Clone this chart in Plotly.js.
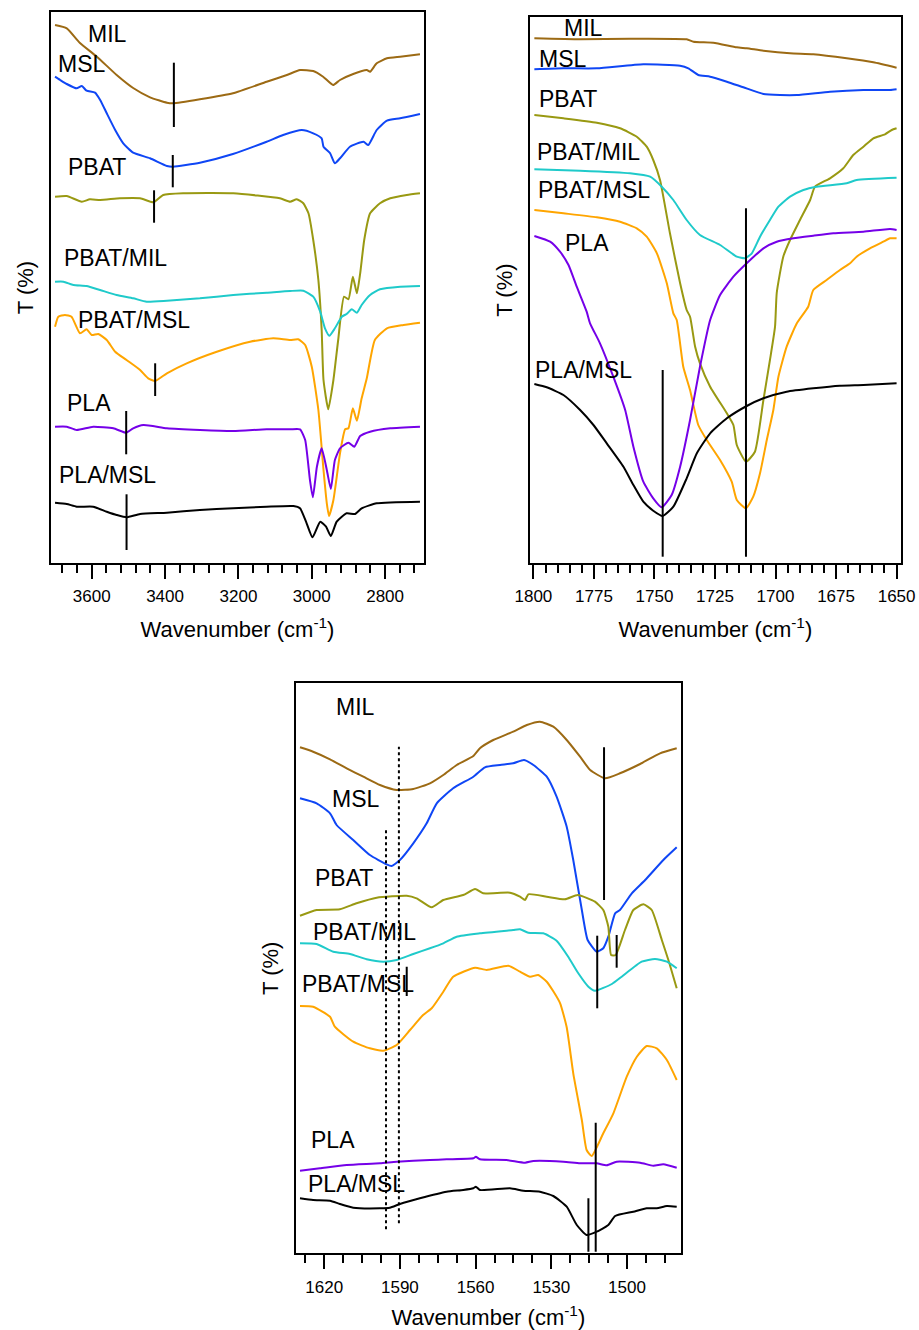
<!DOCTYPE html>
<html>
<head>
<meta charset="utf-8">
<script src="https://cdn.plot.ly/plotly-3.0.1.min.js"></script>
<style>html,body{margin:0;padding:0;background:#fff;}#chart{width:919px;height:1330px;}</style>
</head>
<body>
<div id="chart"></div>
<script>
// ===== Series names and colours =====
const seriesNames = ["MIL", "MSL", "PBAT", "PBAT/MIL", "PBAT/MSL", "PLA", "PLA/MSL"];
const seriesColors = ["#9C6A14", "#0F46F5", "#999912", "#1FCACA", "#FFA500", "#7500E8", "#000000"];

// ===== Panel 1: 3700–2700 cm-1 (wavenumber, offset transmittance in arbitrary units) =====
const p1_wn_MIL = [3700,3668,3632,3586,3532,3487,3441,3395,3378,3305,3215,3123,3068,3032,2996,2969,2942,2923,2887,2850,2841,2823,2795,2759,2705];
const p1_T_MIL  = [538,534.7,520,506.3,488,475,465.7,460.3,459.7,463.7,469.7,481.3,488,493,492,486.3,478,483,489,493,491.3,499.7,504.7,506.3,508.7];

const p1_wn_MSL = [3700,3686,3668,3641,3627,3614,3591,3577,3559,3536,3514,3487,3441,3395,3378,3305,3215,3123,3078,3027,2996,2973,2968,2950,2937,2923,2896,2859,2846,2823,2795,2759,2705];
const p1_T_MSL  = [486.3,483,479,474.7,477,472.3,470.3,463,449.7,433,419.7,410.3,404.7,397,396.3,400.3,409,421.3,428,433,429.7,424.7,416.3,409.7,399.7,404.7,416.3,421.3,418,433,442.3,444.7,449];

const p1_wn_PBAT = [3700,3668,3627,3605,3577,3523,3468,3432,3405,3350,3214,3087,3059,3041,3023,3009,2996,2982,2973,2968,2955,2941,2928,2912,2900,2888,2877,2868,2857,2841,2814,2786,2741,2705];
const p1_T_PBAT  = [366.3,367,361.3,363.7,363,364.7,364.7,360.7,368,369.7,369.7,364.7,361.3,363.7,359.7,349.7,323,283,233,183,153.7,183,223,266.3,263.7,286.3,269.7,289.7,323,349.7,359.7,364.7,368,369.7];

const p1_wn_PBATMIL = [3700,3677,3650,3614,3577,3532,3487,3450,3395,3305,3214,3123,3059,3023,2996,2977,2964,2952,2937,2918,2905,2891,2877,2864,2841,2814,2759,2705];
const p1_T_PBATMIL  = [281.3,281.3,278,277,273,268,264.7,261.3,262.3,264.7,268,270.3,272,272.3,266.3,251.3,234.7,227.3,234.7,246.3,249,253.7,250.3,258,268,273.7,276.3,277];

const p1_wn_PBATMSL = [3700,3691,3673,3655,3632,3614,3600,3582,3559,3536,3505,3468,3446,3427,3395,3341,3259,3168,3105,3059,3037,3018,3000,2982,2968,2959,2953,2941,2923,2909,2900,2888,2877,2864,2850,2828,2795,2750,2705];
const p1_T_PBATMSL  = [236.3,246.3,248,246.3,229.7,233.7,228,229,223,211.3,203,193,184.7,182,189.7,199.7,211.3,221.3,224.7,223,223.7,218,196.3,153,93,59.7,47,63,109.7,133.7,134.7,154.7,142.3,164.7,184.7,223,234.7,238,240.3];

const p1_wn_PLA = [3700,3668,3641,3596,3541,3506,3487,3459,3395,3305,3214,3123,3059,3032,3018,3005,2997,2986,2973,2959,2948,2937,2923,2900,2884,2868,2841,2786,2705];
const p1_T_PLA  = [136.3,136.3,133,136.3,134.7,130.3,134.7,138,134.7,133,132,133.7,133.7,133.7,123,83,65.7,96.3,114.7,93,74,103,114.7,120.3,116.3,127,131.3,134.7,136.3];

const p1_wn_PLAMSL = [3700,3668,3641,3596,3559,3532,3505,3468,3395,3305,3214,3123,3050,3032,3014,2998,2977,2961,2948,2932,2905,2882,2864,2823,2705];
const p1_T_PLAMSL  = [60.3,59,56.3,56.3,51.3,48,45.7,49,50.3,53,54.7,56.3,57,54.7,39.7,25.7,41.3,36.3,27,41.3,49.7,49,54.7,59.7,61.3];

// ===== Panel 2: 1800–1650 cm-1 =====
const p2_wn_MIL = [1799.6,1780.7,1760.1,1736.7,1733.9,1725.7,1716.0,1711.9,1705.0,1694.0,1684.4,1670.6,1659.6,1650.0];
const p2_T_MIL  = [524.7,523.7,524.3,523.7,521.3,520.3,515.7,514.7,512.3,509.7,508.7,504.7,500.7,495.3];

const p2_wn_MSL = [1799.6,1787.6,1773.8,1754.6,1739.4,1736.0,1731.9,1727.0,1720.1,1713.3,1705.0,1698.1,1691.2,1677.5,1663.7,1652.7,1650.0];
const p2_T_MSL  = [493.7,494.7,494.7,498.7,497.3,494.7,488,486.3,481.3,475.7,469,468,468,471.3,473,473,473.7];

const p2_wn_PBAT = [1799.6,1787.6,1773.8,1764.2,1757.3,1753.2,1750.5,1747.7,1743.6,1739.4,1736.7,1735.3,1733.2,1731.2,1727.0,1720.1,1717.4,1716.0,1712.2,1708.5,1705.0,1702.3,1700.2,1699.5,1696.8,1694.0,1689.9,1685.7,1683.7,1677.5,1672.0,1667.9,1663.7,1659.6,1654.8,1652.0,1650.0];
const p2_T_PBAT  = [448,444.7,440.3,434.7,426.3,416.3,403,383,329.7,279.7,253,246.3,216.3,199.7,176.3,149.7,138,118,101.3,111.3,163,203,236.3,270,306.3,323,343,363,376.3,384.7,394.7,408,416.3,424.7,428.7,433,434.7];

const p2_wn_PBATMIL = [1799.6,1780.7,1760.1,1751.8,1747.0,1742.2,1736.7,1731.2,1722.9,1716.0,1712.6,1709.8,1706.4,1702.3,1698.8,1694.0,1688.5,1683.0,1670.6,1666.5,1650.0];
const p2_T_PBATMIL  = [393.7,392.3,389.7,386.3,376.3,363,343,328,318,306.3,304.7,309.7,326.3,343,356.3,366.3,373,376.3,379.7,383,385.3];

const p2_wn_PBATMSL = [1799.6,1787.6,1773.8,1764.2,1757.3,1753.2,1749.0,1744.9,1742.2,1740.8,1738.1,1735.3,1731.9,1728.4,1722.9,1718.1,1716.0,1712.2,1709.2,1706.4,1703.6,1700.9,1698.8,1695.4,1691.2,1686.5,1684.4,1678.9,1673.4,1669.2,1666.5,1661.0,1655.5,1652.7,1650.0];
const p2_T_PBATMSL  = [353,349.7,345.7,341.3,334.7,326.3,309.7,279.7,249.7,243,196.3,173,138,123,103,81.3,63,54.7,66.3,89.7,123,153,186.3,216.3,239.7,256.3,273,283,293,299.7,306.3,314.7,321.3,324.7,324.7];

const p2_wn_PLA = [1799.6,1793.1,1789.0,1785.5,1782.1,1778.0,1776.6,1772.5,1767.0,1762.1,1758.7,1754.6,1750.5,1747.0,1742.9,1739.4,1735.3,1731.2,1727.0,1722.9,1717.4,1711.9,1705.0,1699.5,1692.6,1684.4,1676.1,1663.7,1652.7,1650.0];
const p2_T_PLA  = [327,321.3,311.3,298,276.3,251.3,239.7,219.7,186.3,153,116.3,81.3,64.7,55.7,68,96.3,143,196.3,243,268,286.3,299.7,314.7,321.3,324.7,327.3,329.7,331.3,334,333];

const p2_wn_PLAMSL = [1799.6,1794.5,1787.6,1780.7,1775.2,1769.7,1762.8,1758.7,1754.6,1750.5,1746.6,1742.2,1736.7,1732.5,1727.0,1720.1,1711.9,1705.0,1695.4,1684.4,1673.4,1663.7,1650.0];
const p2_T_PLAMSL  = [179,175.7,168,153,138,119.7,96.3,78,61.3,52.3,47,56.3,84.7,109.7,129.7,144.7,157,164.7,171.3,174.7,177.3,178,179.7];

// ===== Panel 3: 1630–1480 cm-1 =====
const p3_wn_MIL = [1629.6,1624.4,1617.7,1611.1,1604.5,1597.9,1591.3,1584.7,1578.1,1572.8,1567.5,1560.9,1558.3,1553.0,1545.1,1539.7,1534.5,1529.2,1523.9,1518.6,1514.6,1508.7,1502.8,1494.8,1486.9,1480.3];
const p3_T_MIL  = [506,501.6,494,485,476.6,468.3,463.3,464.3,470,478.3,488.3,497.3,505,513.3,521.6,528.3,531.6,526.6,513.3,496.6,483.3,475,480,489.3,500,505];

const p3_wn_MSL = [1629.6,1623.0,1617.7,1615.1,1608.5,1601.9,1595.3,1593.3,1590.0,1584.7,1579.4,1575.4,1568.9,1560.9,1556.3,1550.3,1545.1,1540.8,1537.1,1531.8,1527.9,1523.9,1521.3,1517.9,1515.6,1512.0,1509.4,1507.4,1504.7,1502.8,1498.1,1492.8,1485.6,1480.3];
const p3_T_MSL  = [455,450,440,428.3,413.3,398.3,389,387.3,393.3,410,430,450,465,476.6,486,488.3,490,493.3,488.3,476.6,456.6,426.6,393.3,343.3,313.3,301.6,305,316.6,340,343.3,360,373.3,393.3,406];

const p3_wn_PBAT = [1629.6,1623.0,1613.8,1607.2,1599.2,1587.3,1583.4,1577.4,1572.8,1564.9,1560.2,1557.0,1546.4,1542.4,1540.4,1539.1,1531.8,1524.6,1519.5,1512.7,1509.4,1507.4,1506.3,1504.5,1500.8,1497.5,1493.5,1490.2,1486.2,1483.6,1480.3];
const p3_T_PBAT  = [337.6,343.3,344,350,355.6,357.6,355,346,353.3,358.3,364.3,360,360.6,356.6,353.3,359,356.6,354,358.3,351.6,343.3,326.6,298.3,298.3,323.3,343.3,349,343.3,313.3,293.3,265];

const p3_wn_PBATMIL = [1629.6,1623.0,1616.4,1609.8,1603.2,1596.6,1591.3,1584.7,1578.1,1572.8,1567.5,1558.3,1545.1,1542.4,1539.1,1533.2,1527.9,1523.3,1519.3,1515.3,1512.7,1506.0,1502.1,1494.2,1488.9,1484.2,1480.3];
const p3_T_PBATMIL  = [310,309.3,301.6,299.3,294,291.6,293.3,299.3,305,310,316.6,320,323.3,324,320.6,320,312.6,296.6,280,266.6,262.6,269.3,276.6,291.6,294.3,291.6,285];

const p3_wn_PBATMSL = [1629.6,1624.4,1617.7,1615.8,1608.5,1601.9,1596.6,1591.3,1586.0,1580.8,1577.4,1572.8,1568.9,1560.2,1555.6,1547.0,1542.4,1538.4,1535.2,1531.8,1529.2,1526.5,1523.9,1521.3,1517.9,1516.0,1514.0,1509.4,1505.4,1500.1,1496.1,1492.2,1488.2,1484.2,1480.3];
const p3_T_PBATMSL  = [247.3,246.6,236.6,226.6,211.6,205,202.6,208.3,223.3,238.3,245,261.6,276.6,285.6,283.3,287.6,281.6,276.6,278.3,271.6,262,250,226,180,133.3,103.3,97.3,120,140,176.6,196.6,207.3,205,193.3,173.3];

const p3_wn_PLA = [1629.6,1621.7,1611.1,1597.9,1591.3,1578.1,1571.5,1560.9,1559.9,1558.3,1547.7,1540.4,1537.1,1525.2,1518.6,1512.0,1508.0,1504.1,1494.8,1489.6,1485.6,1480.3];
const p3_T_PLA  = [82.6,85,88.3,90,91.6,93.3,94,95,96.6,94,93.3,90.6,92.3,91.6,90,90,88,91.6,90.6,87.6,89,85.6];

const p3_wn_PLAMSL = [1629.6,1624.4,1617.7,1613.8,1608.5,1597.9,1594.0,1590.0,1582.1,1571.5,1564.9,1560.9,1559.9,1558.3,1546.4,1541.1,1534.5,1529.2,1523.9,1519.9,1516.0,1512.0,1507.4,1504.7,1497.5,1492.2,1488.2,1484.2,1480.3];
const p3_T_PLAMSL  = [55,53.3,52.6,49.3,45.6,45,45.6,49.3,55,61.6,63.3,65,66.6,63.3,65,62.6,61.6,57.3,46.6,28.3,18.3,21.6,28.3,37.3,41.6,45,45,47.3,46.6];

// ===== Band markers (wavenumber of each marked band) =====
const p1_markWn = [3376, 3379, 3430, 3427, 3506, 3505];
const p2_markWn = [1746.6, 1712.2];
const p3_markWn = [1509.1, 1511.8, 1504.1, 1587.3, 1512.4, 1515.3];
const p3_dotWn  = [1595.5, 1590.4];

// ===== Axis titles =====
const axisTitleX = "Wavenumber (cm<sup>-1</sup>)";
const axisTitleY = "T (%)";

// ---------- build ----------
const panels = [
  {xa:"x",  ya:"y",  data:[[p1_wn_MIL,p1_T_MIL],[p1_wn_MSL,p1_T_MSL],[p1_wn_PBAT,p1_T_PBAT],[p1_wn_PBATMIL,p1_T_PBATMIL],[p1_wn_PBATMSL,p1_T_PBATMSL],[p1_wn_PLA,p1_T_PLA],[p1_wn_PLAMSL,p1_T_PLAMSL]]},
  {xa:"x2", ya:"y2", data:[[p2_wn_MIL,p2_T_MIL],[p2_wn_MSL,p2_T_MSL],[p2_wn_PBAT,p2_T_PBAT],[p2_wn_PBATMIL,p2_T_PBATMIL],[p2_wn_PBATMSL,p2_T_PBATMSL],[p2_wn_PLA,p2_T_PLA],[p2_wn_PLAMSL,p2_T_PLAMSL]]},
  {xa:"x3", ya:"y3", data:[[p3_wn_MIL,p3_T_MIL],[p3_wn_MSL,p3_T_MSL],[p3_wn_PBAT,p3_T_PBAT],[p3_wn_PBATMIL,p3_T_PBATMIL],[p3_wn_PBATMSL,p3_T_PBATMSL],[p3_wn_PLA,p3_T_PLA],[p3_wn_PLAMSL,p3_T_PLAMSL]]}
];

const traces = [];
panels.forEach(p => {
  p.data.forEach((d, i) => {
    traces.push({
      type: "scatter", mode: "lines", x: d[0], y: d[1],
      xaxis: p.xa, yaxis: p.ya, name: seriesNames[i],
      line: {color: seriesColors[i], width: 2, shape: "spline", smoothing: 0.5},
      hoverinfo: "x+y+name", showlegend: false
    });
  });
});

// marker line spans (y extents in axis units)
const p1_markSpan = [[436,500.3],[375.7,408],[340.3,372.7],[167,199.7],[108.7,152],[13,68.7]];
const p2_markSpan = [[6.3,193],[6.3,354.7]];
const p3_markSpan = [[353.3,506],[245,317.6],[285.6,318.3],[257.3,286.6],[1.6,130.6],[1.6,55]];
const p3_dotSpan  = [[24,425],[30,506.6]];

const shapes = [];
function addMarks(wns, spans, xr, yr, dash) {
  wns.forEach((w, i) => shapes.push({
    type: "line", xref: xr, yref: yr, x0: w, x1: w, y0: spans[i][0], y1: spans[i][1],
    line: {color: "#000", width: 2, dash: dash || "solid"}
  }));
}
addMarks(p1_markWn, p1_markSpan, "x", "y");
addMarks(p2_markWn, p2_markSpan, "x2", "y2");
addMarks(p3_markWn, p3_markSpan, "x3", "y3");
addMarks(p3_dotWn, p3_dotSpan, "x3", "y3", "dot");

// curve labels
const labelPos = {
  x: [[3556,529],[3626,499],[3586,396],[3536,305],[3485,243],[3607,160],[3556,88]],
  x2:[[1779.5,535],[1787.7,504],[1785.7,464],[1777.4,411],[1774.9,373],[1777.8,320],[1779.5,193]],
  x3:[[1607.8,546.3],[1607.6,454.3],[1612.2,375.3],[1604.1,321.3],[1606.6,269.3],[1616.5,113.3],[1607.2,69.3]]
};
const fontFam = "Liberation Sans, Arial, sans-serif";
const annotations = [];
[["x","y"],["x2","y2"],["x3","y3"]].forEach(([xr, yr]) => {
  labelPos[xr].forEach((pos, i) => annotations.push({
    xref: xr, yref: yr, x: pos[0], y: pos[1], text: seriesNames[i], showarrow: false,
    xanchor: "center", yanchor: "middle",
    font: {family: fontFam, size: 23, color: "#000"}
  }));
});

function xAxis(domain, range, dtick, tick0, minorDtick, anchor) {
  return {
    domain: domain, range: range, anchor: anchor,
    tickmode: "linear", dtick: dtick, tick0: tick0,
    ticks: "outside", ticklen: 14, tickwidth: 2, tickcolor: "#000",
    ticklabelstandoff: 3,
    minor: {dtick: minorDtick, tick0: tick0, ticks: "outside", ticklen: 8, tickwidth: 2, tickcolor: "#000", showgrid: false},
    showline: true, mirror: true, linewidth: 2, linecolor: "#000",
    showgrid: false, zeroline: false,
    tickfont: {family: fontFam, size: 17, color: "#000"},
    title: {text: axisTitleX, font: {family: fontFam, size: 22, color: "#000"}, standoff: 16}
  };
}
function yAxis(domain, range, anchor) {
  return {
    domain: domain, range: range, anchor: anchor,
    showticklabels: false, ticks: "", showgrid: false, zeroline: false,
    showline: true, mirror: true, linewidth: 2, linecolor: "#000",
    title: {text: axisTitleY, font: {family: fontFam, size: 22, color: "#000"}, standoff: 9}
  };
}

const W = 919, H = 1330;
const layout = {
  width: W, height: H,
  margin: {l: 0, r: 0, t: 0, b: 0},
  paper_bgcolor: "#fff", plot_bgcolor: "#fff",
  showlegend: false,
  font: {family: fontFam, color: "#000"},
  xaxis:  xAxis([51/W, 424/W], [3711, 2694], 200, 2800, 40, "y"),
  yaxis:  yAxis([1-563/H, 1-12/H], [0, 551], "x"),
  xaxis2: xAxis([530/W, 900.7/W], [1801.4, 1648.3], 25, 1650, 5, "y2"),
  yaxis2: yAxis([1-563/H, 1-17.3/H], [0, 545.7], "x2"),
  xaxis3: xAxis([295.7/W, 681/W], [1631.3, 1478.6], 30, 1500, 7.5, "y3"),
  yaxis3: yAxis([1-1253.3/H, 1-683.3/H], [0, 570], "x3"),
  shapes: shapes,
  annotations: annotations
};

Plotly.newPlot("chart", traces, layout, {displayModeBar: false, staticPlot: true});
</script>
</body>
</html>
